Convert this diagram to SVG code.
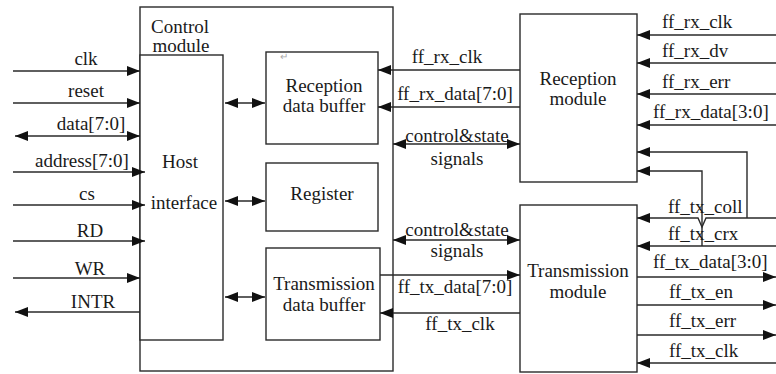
<svg xmlns="http://www.w3.org/2000/svg" width="776" height="374" viewBox="0 0 776 374">
<style>
text{font-family:"Liberation Serif","Times New Roman",serif;font-size:19px;fill:#1a1a1a}
.m{text-anchor:middle}
.b{fill:#fff;stroke:#2a2a2a;stroke-width:1.4}
.w{fill:none;stroke:#2a2a2a;stroke-width:1.4}
.e{marker-end:url(#a)}
.d{marker-start:url(#a);marker-end:url(#a)}
</style>
<defs>
<marker id="a" viewBox="0 0 13 10" refX="13" refY="5" markerWidth="13" markerHeight="10" markerUnits="userSpaceOnUse" orient="auto-start-reverse">
<path d="M0,0 L13,5 L0,10 z" fill="#111"/>
</marker>
</defs>
<rect width="776" height="374" fill="#fff"/>
<g id="control-module">
<rect class="b" x="140" y="7" width="253" height="364"/>
<text class="m" x="180" y="33">Control</text>
<text class="m" x="181" y="52">module</text>
</g>
<g id="host-interface">
<rect class="b" x="140" y="55" width="83" height="285"/>
<text class="m" x="180" y="168">Host</text>
<text class="m" x="184" y="209">interface</text>
</g>
<g id="reception-data-buffer">
<rect class="b" x="266" y="52" width="112" height="92"/>
<text x="280" y="60" style="font-size:10px;fill:#aaa">↵</text>
<text class="m" x="324" y="92">Reception</text>
<text class="m" x="324" y="112">data buffer</text>
</g>
<g id="register">
<rect class="b" x="266" y="163" width="112" height="68"/>
<text class="m" x="322" y="200">Register</text>
</g>
<g id="transmission-data-buffer">
<rect class="b" x="266" y="248" width="114" height="92"/>
<text class="m" x="324" y="290">Transmission</text>
<text class="m" x="324" y="311">data buffer</text>
</g>
<g id="reception-module">
<rect class="b" x="520" y="14" width="117" height="168"/>
<text class="m" x="578" y="85">Reception</text>
<text class="m" x="578" y="105">module</text>
</g>
<g id="transmission-module">
<rect class="b" x="520" y="205" width="117" height="167"/>
<text class="m" x="578" y="277">Transmission</text>
<text class="m" x="578" y="298">module</text>
</g>
<g id="connectors">
<line class="w e" x1="13" y1="71" x2="140" y2="71"/>
<line class="w e" x1="13" y1="103" x2="140" y2="103"/>
<line class="w d" x1="15" y1="136" x2="140" y2="136"/>
<line class="w e" x1="13" y1="172" x2="145" y2="172"/>
<line class="w e" x1="13" y1="205" x2="145" y2="205"/>
<line class="w e" x1="13" y1="241" x2="145" y2="241"/>
<line class="w e" x1="13" y1="278" x2="140" y2="278"/>
<line class="w e" x1="140" y1="312" x2="15" y2="312"/>
<line class="w d" x1="225" y1="103" x2="265" y2="103"/>
<line class="w d" x1="225" y1="201" x2="265" y2="201"/>
<line class="w d" x1="225" y1="297" x2="265" y2="297"/>
<line class="w e" x1="520" y1="70" x2="378" y2="70"/>
<line class="w e" x1="520" y1="107" x2="378" y2="107"/>
<line class="w d" x1="393" y1="144" x2="520" y2="144"/>
<line class="w d" x1="393" y1="240" x2="520" y2="240"/>
<line class="w e" x1="380" y1="275" x2="520" y2="275"/>
<line class="w e" x1="520" y1="313" x2="380" y2="313"/>
<line class="w e" x1="776" y1="35" x2="637" y2="35"/>
<line class="w e" x1="776" y1="63" x2="637" y2="63"/>
<line class="w e" x1="776" y1="94" x2="637" y2="94"/>
<line class="w e" x1="776" y1="125" x2="637" y2="125"/>
<polyline class="w e" points="747,218 747,152 637,152"/>
<polyline class="w e" points="702,246 702,171 637,171"/>
<polyline class="w e" points="776,218 706,218 702,227 698,218 637,218"/>
<line class="w e" x1="776" y1="246" x2="637" y2="246"/>
<line class="w e" x1="637" y1="277" x2="776" y2="277"/>
<line class="w e" x1="637" y1="305" x2="776" y2="305"/>
<line class="w e" x1="637" y1="335" x2="776" y2="335"/>
<line class="w e" x1="776" y1="363" x2="637" y2="363"/>
</g>
<g id="labels">
<text class="m" x="86" y="65">clk</text>
<text class="m" x="86" y="97">reset</text>
<text class="m" x="91" y="130">data[7:0]</text>
<text class="m" x="82" y="167">address[7:0]</text>
<text class="m" x="87" y="200">cs</text>
<text class="m" x="90" y="237">RD</text>
<text class="m" x="90" y="275">WR</text>
<text class="m" x="93" y="308">INTR</text>
<text class="m" x="447" y="63">ff_rx_clk</text>
<text class="m" x="455" y="100">ff_rx_data[7:0]</text>
<text class="m" x="457" y="142">control&amp;state</text>
<text class="m" x="457" y="165">signals</text>
<text class="m" x="457" y="236">control&amp;state</text>
<text class="m" x="457" y="257">signals</text>
<text class="m" x="455" y="293">ff_tx_data[7:0]</text>
<text class="m" x="460" y="330">ff_tx_clk</text>
<text x="662" y="28">ff_rx_clk</text>
<text x="662" y="57">ff_rx_dv</text>
<text x="662" y="88">ff_rx_err</text>
<text x="653" y="118">ff_rx_data[3:0]</text>
<text x="668" y="213">ff_tx_coll</text>
<text x="668" y="240">ff_tx_crx</text>
<text x="653" y="268">ff_tx_data[3:0]</text>
<text x="669" y="298">ff_tx_en</text>
<text x="669" y="327">ff_tx_err</text>
<text x="669" y="357">ff_tx_clk</text>
</g>
</svg>
